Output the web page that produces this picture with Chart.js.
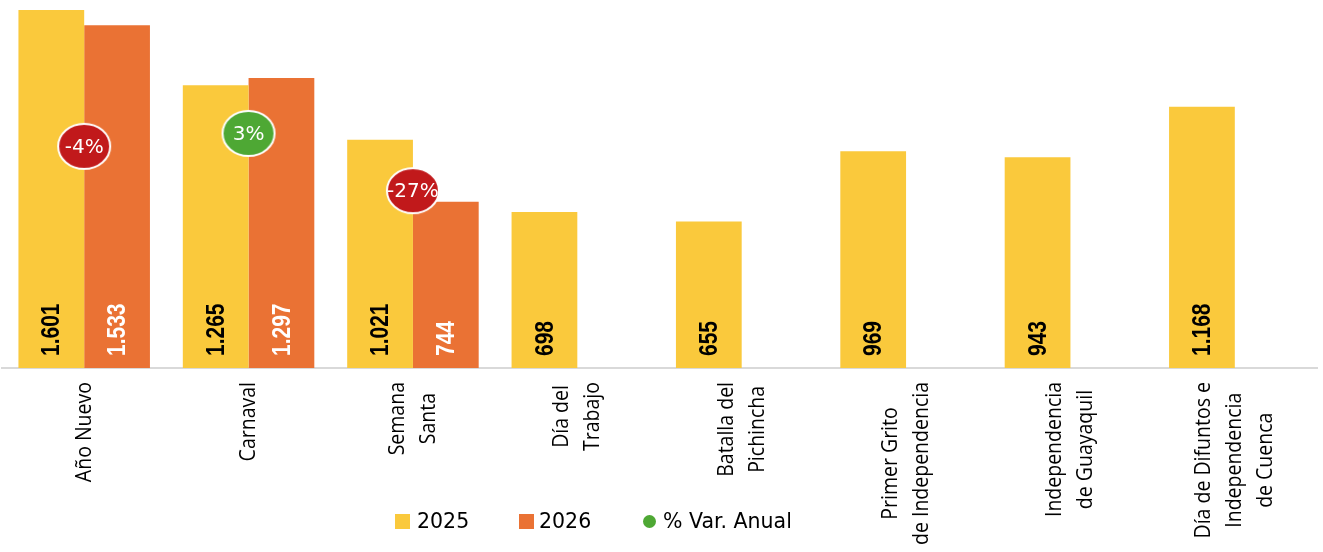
<!DOCTYPE html>
<html>
<head>
<meta charset="utf-8">
<script src="https://cdn.jsdelivr.net/npm/chart.js@4"></script>
<style>
  html, body { margin: 0; padding: 0; background: #fff; }
  #wrap { position: relative; width: 1323px; height: 552px; }
  .ley { position: absolute; font: 20.5px "DejaVu Sans", sans-serif; color: #000; line-height: 20px; }
  .caja { position: absolute; width: 15px; height: 15px; }
</style>
</head>
<body>
<div id="wrap">
  <canvas id="myChart" width="1323" height="552"></canvas>
  <div class="caja" style="left:395px;top:514px;background:#FAC93C"></div>
  <div class="ley" style="left:417px;top:511px">2025</div>
  <div class="caja" style="left:519px;top:514px;background:#EA7234"></div>
  <div class="ley" style="left:539px;top:511px">2026</div>
  <div class="caja" style="left:643px;top:515px;width:13px;height:13px;border-radius:50%;background:#4EA834"></div>
  <div class="ley" style="left:663px;top:511px">% Var. Anual</div>
</div>
<script>
// datos
const categorias = [
  ["Año Nuevo"], ["Carnaval"], ["Semana", "Santa"], ["Día del", "Trabajo"],
  ["Batalla del", "Pichincha"], ["Primer Grito", "de Independencia"],
  ["Independencia", "de Guayaquil"], ["Día de Difuntos e", "Independencia", "de Cuenca"]
];
const datos2025 = [1601, 1265, 1021, 698, 655, 969, 943, 1168];
const datos2026 = [1533, 1297, 744, null, null, null, null, null];
const varAnual = [-4.2, 2.5, -27.1, null, null, null, null, null];

const amarillo = "#FAC93C";
const naranja = "#EA7234";
const rojo = "#C1191B";
const verde = "#4EA834";

function miles(v) {
  return String(v).replace(/\B(?=(\d{3})+(?!\d))/g, ".");
}

// elipse usada como punto
function elipse(color) {
  const c = document.createElement("canvas");
  c.width = 56; c.height = 49;
  const g = c.getContext("2d");
  g.beginPath();
  g.ellipse(28, 24.5, 26, 22.5, 0, 0, Math.PI * 2);
  g.fillStyle = color;
  g.fill();
  g.lineWidth = 2;
  g.strokeStyle = "#fff";
  g.stroke();
  return c;
}
const puntoRojo = elipse(rojo);
const puntoVerde = elipse(verde);

const etiquetas = {
  id: "etiquetas",
  afterDatasetsDraw(chart) {
    const ctx = chart.ctx;
    const base = chart.scales.y.getPixelForValue(0);
    // valores dentro de las barras
    [0, 1].forEach(function (d) {
      const meta = chart.getDatasetMeta(d);
      meta.data.forEach(function (bar, i) {
        const v = chart.data.datasets[d].data[i];
        if (v == null) return;
        ctx.save();
        ctx.translate(bar.x, base - 12);
        ctx.scale(1.2, 1);
        ctx.rotate(-Math.PI / 2);
        ctx.font = "bold 21px 'Liberation Sans', sans-serif";
        ctx.fillStyle = d === 0 ? "#000" : "#fff";
        ctx.textAlign = "left";
        ctx.textBaseline = "middle";
        ctx.fillText(miles(v), 0, 1);
        ctx.restore();
      });
    });
    // porcentajes
    const meta = chart.getDatasetMeta(2);
    meta.data.forEach(function (p, i) {
      const v = varAnual[i];
      if (v == null) return;
      ctx.save();
      ctx.font = "20px 'DejaVu Sans', sans-serif";
      ctx.fillStyle = "#fff";
      ctx.textAlign = "center";
      ctx.textBaseline = "middle";
      ctx.fillText(Math.round(v) + "%", p.x, p.y + 1);
      ctx.restore();
    });
  },
  afterDraw(chart) {
    const ctx = chart.ctx;
    const xs = chart.scales.x;
    const lineH = 27;
    categorias.forEach(function (lineas, i) {
      const x = xs.getPixelForValue(i);
      ctx.save();
      ctx.font = "19.5px 'Open Sans', sans-serif";
      ctx.fillStyle = "#000";
      ctx.textAlign = "center";
      ctx.textBaseline = "middle";
      let maxW = 0;
      lineas.forEach(function (l) { maxW = Math.max(maxW, ctx.measureText(l).width); });
      ctx.translate(x, 382);
      ctx.scale(1.15, 1);
      ctx.rotate(-Math.PI / 2);
      lineas.forEach(function (l, j) {
        ctx.fillText(l, -maxW / 2, (j - (lineas.length - 1) / 2) * lineH);
      });
      ctx.restore();
    });
  }
};

const config = {
  type: "bar",
  data: {
    labels: categorias,
    datasets: [
      { label: "2025", data: datos2025, backgroundColor: amarillo, borderWidth: 0, order: 1 },
      { label: "2026", data: datos2026, backgroundColor: naranja, borderWidth: 0, order: 1 },
      {
        type: "line", label: "% Var. Anual", data: varAnual, yAxisID: "y1",
        showLine: false, order: 0, clip: false,
        pointStyle: function (c) { return c.raw < 0 ? puntoRojo : puntoVerde; },
        pointRadius: 26, pointHoverRadius: 26,
        backgroundColor: verde, borderColor: verde
      }
    ]
  },
  options: {
    responsive: false,
    animation: false,
    layout: { autoPadding: false, padding: { left: 2, right: 6, top: 0, bottom: 176 } },
    datasets: { bar: { categoryPercentage: 0.8, barPercentage: 1.0 } },
    plugins: { legend: { display: false }, tooltip: { enabled: false } },
    scales: {
      x: {
        grid: { display: false },
        border: { display: true, color: "#D9D9D9", width: 2 },
        ticks: { display: false }
      },
      y: { display: false, min: 0, max: 1646 },
      y1: { display: false, min: -118.7, max: 71.4 }
    }
  },
  plugins: [etiquetas]
};

const context = document.getElementById("myChart");
const myChart = new Chart(context, config);
</script>
</body>
</html>
